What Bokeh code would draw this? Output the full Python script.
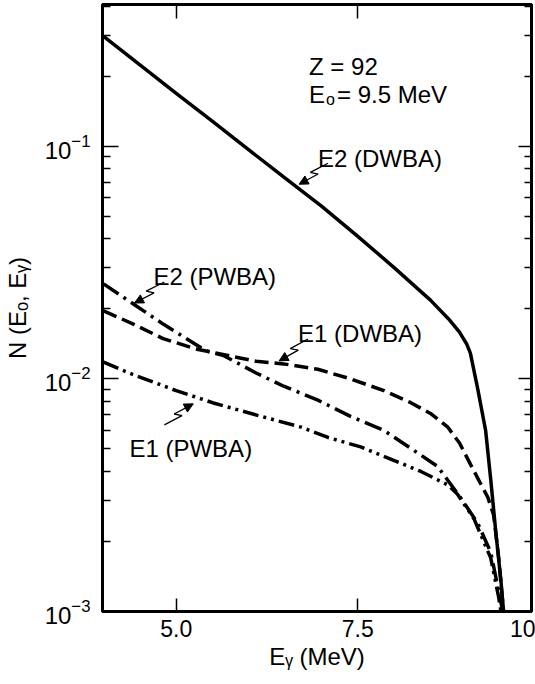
import math
from bokeh.plotting import figure
from bokeh.models import (Range1d, LogAxis, LinearAxis, FixedTicker, Label,
                          Arrow, NormalHead, CustomJSTickFormatter)
from bokeh.embed import file_html
from bokeh.resources import INLINE

# ---------------- data ----------------
e2_dwba_x = [4.0, 4.5, 5.0, 5.5, 6.0, 6.5, 7.0, 7.5, 8.0, 8.5, 8.75, 8.9, 9.0, 9.05,
             9.15, 9.26, 9.33, 9.40, 9.47, 9.52]
e2_dwba_y = [0.2965, 0.224, 0.169, 0.128, 0.0965, 0.0729, 0.0553, 0.0410, 0.0301, 0.0218,
             0.0181, 0.0159, 0.0141, 0.0129, 0.0091, 0.0060, 0.0037, 0.0022, 0.00136, 0.0009]

e1_dwba_x = [4.0, 4.41, 4.82, 5.27, 6.1, 6.48, 6.95, 7.4, 7.86, 8.23, 8.5, 8.74, 8.9, 9.05,
             9.2, 9.29, 9.37, 9.44, 9.52]
e1_dwba_y = [0.0196, 0.0172, 0.0149, 0.01345, 0.0119, 0.0116, 0.0110, 0.0100, 0.0089, 0.0079,
             0.0071, 0.0062, 0.0053, 0.0043, 0.0035, 0.0031, 0.0026, 0.0017, 0.0009]

e2_pwba_x = [4.0, 4.41, 4.82, 5.41, 5.65, 6.1, 6.48, 6.95, 7.4, 7.86, 8.37, 8.6, 8.91, 9.15,
             9.33, 9.47, 9.52]
e2_pwba_y = [0.0256, 0.0210, 0.0172, 0.0132, 0.0126, 0.0106, 0.0093, 0.0081, 0.0069, 0.0060,
             0.0047, 0.0042, 0.0031, 0.0024, 0.0018, 0.0011, 0.0009]

e1_pwba_x = [4.0, 4.35, 5.0, 5.5, 6.17, 6.72, 7.09, 7.54, 8.37, 8.74, 8.87, 9.1, 9.33, 9.44, 9.52]
e1_pwba_y = [0.0118, 0.0106, 0.0089, 0.0079, 0.0069, 0.0062, 0.0056, 0.0051, 0.0040, 0.0035,
             0.0032, 0.0025, 0.0017, 0.00115, 0.0008]

x_ticks = [5.0, 7.5]
x_edge_tick_label = "10"
y_ticks = [1e-3, 1e-2, 1e-1]
x_axis_label = "Eᵧ (MeV)"
y_axis_label = "N (Eₒ, Eᵧ)"

# ---------------- layout ----------------
W, H = 535, 684
FL, FR, FT, FB = 101, 531, 3, 611
PX_PER_UNIT = 72.8
DECADE_PX = 233.0
X0 = 3.985
X1 = X0 + (FR - FL) / PX_PER_UNIT
Y0 = 1e-3
Y1 = 10 ** (math.log10(Y0) + (FB - FT) / DECADE_PX)


def px2x(px):
    return X0 + (px - FL) * (X1 - X0) / (FR - FL)


def py2y(py):
    return 10 ** (math.log10(Y0) + (FB - py) * (math.log10(Y1) - math.log10(Y0)) / (FB - FT))


FONT = "Liberation Sans"

p = figure(width=W, height=H, x_range=Range1d(X0, X1), y_range=Range1d(Y0, Y1),
           y_axis_type="log", output_backend="svg", toolbar_location=None,
           min_border_left=FL, min_border_right=W - FR, min_border_top=FT,
           min_border_bottom=H - FB)
p.grid.visible = False
p.background_fill_color = "white"
p.border_fill_color = "white"
p.outline_line_color = "black"
p.outline_line_width = 3

minor = [m * t for t in y_ticks for m in range(2, 10)]
yticker = FixedTicker(ticks=y_ticks, minor_ticks=minor)
edge_tick = X1 - 0.001   # the "10" label sits at the frame's right edge

xa = p.xaxis[0]
xa.ticker = FixedTicker(ticks=x_ticks + [edge_tick])
xa.formatter = CustomJSTickFormatter(
    code="return tick > %f ? '%s' : tick.toFixed(1);" % (x_ticks[-1] + 1.0, x_edge_tick_label))
xa.major_tick_in = 13
xa.major_tick_out = 0
xa.minor_tick_in = 0
xa.minor_tick_out = 0
xa.major_tick_line_width = 1.5
xa.axis_line_width = 3
xa.major_label_text_font = FONT
xa.major_label_text_font_size = "23px"
xa.major_label_text_color = "black"
xa.major_label_standoff = 8
xa.axis_label = x_axis_label
xa.axis_label_text_font = FONT
xa.axis_label_text_font_size = "24px"
xa.axis_label_text_font_style = "normal"
xa.axis_label_text_color = "black"
xa.axis_label_standoff = 3

ya = p.yaxis[0]
ya.ticker = yticker
ya.major_tick_in = 16
ya.major_tick_out = 0
ya.minor_tick_in = 8
ya.minor_tick_out = 0
ya.major_tick_line_width = 1.5
ya.minor_tick_line_width = 1.5
ya.axis_line_width = 3
ya.major_label_text_font = FONT
ya.major_label_text_font_size = "24px"
ya.major_label_text_color = "black"
ya.major_label_standoff = 12
ya.axis_label = y_axis_label
ya.axis_label_text_font = FONT
ya.axis_label_text_font_size = "24px"
ya.axis_label_text_font_style = "normal"
ya.axis_label_text_color = "black"
ya.axis_label_standoff = 11

blank = CustomJSTickFormatter(code="return ' ';")
ra = LogAxis(ticker=yticker, formatter=blank, major_tick_in=13, major_tick_out=0,
             minor_tick_in=7, minor_tick_out=0, major_tick_line_width=1.5,
             minor_tick_line_width=1.5, axis_line_width=3,
             major_label_text_font_size="1px", major_label_standoff=0)
p.add_layout(ra, "right")
ta = LinearAxis(ticker=FixedTicker(ticks=x_ticks), formatter=blank, major_tick_in=14,
                major_tick_out=0, minor_tick_in=0, minor_tick_out=0,
                major_tick_line_width=1.5, axis_line_width=3,
                major_label_text_font_size="1px", major_label_standoff=0)
p.add_layout(ta, "above")

LW = 3.5
p.line(e2_dwba_x, e2_dwba_y, line_width=LW, line_color="black", line_join="round")
p.line(e1_dwba_x, e1_dwba_y, line_width=LW, line_color="black", line_dash="14 6")
p.line(e2_pwba_x, e2_pwba_y, line_width=LW, line_color="black", line_dash="18 6 3 6")
p.line(e1_pwba_x, e1_pwba_y, line_width=LW, line_color="black", line_dash="16 5 3 5 3 5")


def add_text(txt, px, py, size="24px", angle=0.0):
    p.add_layout(Label(x=px2x(px), y=py2y(py), text=txt, text_font=FONT,
                       text_font_size=size, text_color="black", text_align="left",
                       text_baseline="alphabetic", angle=angle))


def add_bolt_arrow(sx, sy, tx, ty):
    dx, dy = tx - sx, ty - sy
    L = math.hypot(dx, dy)
    ux, uy = dx / L, dy / L
    nx, ny = -uy, ux
    ax, ay = sx + 0.55 * L * ux + 3 * nx, sy + 0.55 * L * uy + 3 * ny
    bx, by = sx + 0.40 * L * ux - 3 * nx, sy + 0.40 * L * uy - 3 * ny
    p.line([px2x(sx), px2x(ax), px2x(bx)], [py2y(sy), py2y(ay), py2y(by)],
           line_width=1.3, line_color="black")
    p.add_layout(Arrow(end=NormalHead(size=9, fill_color="black", line_color="black", line_width=1),
                       x_start=px2x(bx), y_start=py2y(by), x_end=px2x(tx), y_end=py2y(ty),
                       line_width=1.3, line_color="black"))


# curve labels and pointers
add_text("E2 (DWBA)", 317, 157)
add_bolt_arrow(327, 162, 298, 183)
add_text("E2 (PWBA)", 152, 275)
add_bolt_arrow(163, 281, 133, 302)
add_text("E1 (DWBA)", 297, 333)
add_bolt_arrow(307, 338, 278, 360)
add_text("E1 (PWBA)", 128, 448)
add_bolt_arrow(163, 424, 192, 403)

# parameters
add_text("Z = 92", 308, 65)
add_text("E", 308, 93)
add_text("o", 325, 98, size="16px")
add_text("= 9.5 MeV", 336, 93)

open("out.html", "w").write(file_html(p, INLINE))
